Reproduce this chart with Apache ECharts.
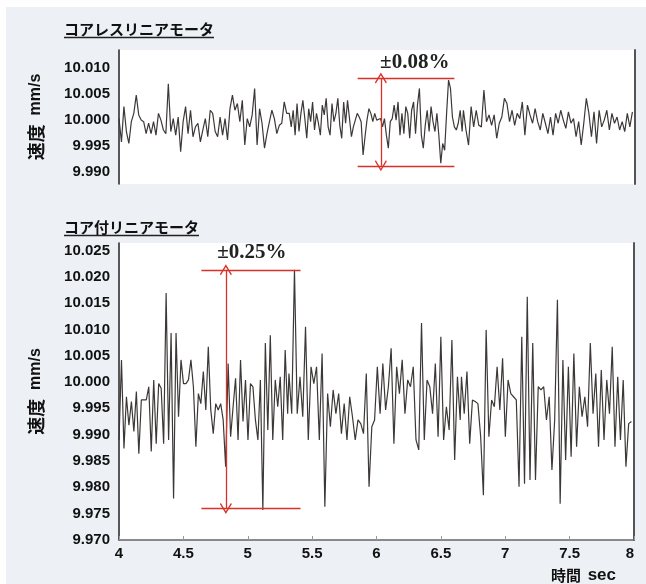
<!DOCTYPE html>
<html>
<head>
<meta charset="utf-8">
<script src="https://cdn.jsdelivr.net/npm/echarts@6/dist/echarts.min.js"></script>
<style>
  html, body { margin: 0; padding: 0; background: #ffffff; }
  #bg { position: absolute; left: 6px; top: 7px; width: 640px; height: 577px; background: #edf1f5; }
  #chart { position: absolute; left: 0; top: 0; width: 646px; height: 584px; }
</style>
</head>
<body>
<div id="bg"></div>
<div id="chart"></div>
<script>
// ---------- Titles / axis text ----------
const topTitle = 'コアレスリニアモータ';
const bottomTitle = 'コア付リニアモータ';
const yName = '速度';
const yUnit = 'mm/s';
const xName = '時間';
const xUnit = 'sec';

// ---------- Axis ticks ----------
const xTicks = [4, 4.5, 5, 5.5, 6, 6.5, 7, 7.5, 8];
const topYTicks = [9.990, 9.995, 10.000, 10.005, 10.010];
const bottomYTicks = [9.970, 9.975, 9.980, 9.985, 9.990, 9.995, 10.000, 10.005, 10.010, 10.015, 10.020, 10.025];
const topYRange = [9.9877, 10.0135];
const bottomYRange = [9.970, 10.0264];

// ---------- Coreless motor speed (mm/s), three time segments ----------
const topSegSpans = [[4.00, 5.30], [5.32, 6.66], [6.67, 7.98]];
const topSegA = [10.0003, 9.9958, 10.0026, 9.9978, 9.9955, 9.9997, 10.0013, 10.0048, 10.0010, 10.0000,
  9.9997, 9.9974, 9.9994, 9.9974, 9.9997, 9.9971, 10.0013, 10.0000, 9.9981, 9.9974,
  10.0070, 9.9978, 10.0003, 9.9971, 10.0006, 9.9939, 9.9997, 10.0026, 9.9974, 10.0019,
  9.9968, 9.9987, 9.9994, 9.9958, 9.9981, 10.0003, 9.9968, 10.0019, 10.0013, 9.9978,
  9.9968, 10.0006, 9.9971, 10.0003, 9.9962, 10.0022, 10.0048, 10.0019, 10.0032, 9.9997,
  10.0038, 9.9952, 10.0003, 9.9987, 10.0010, 10.0061, 9.9952, 10.0022, 9.9994, 9.9946,
  9.9974, 9.9997, 10.0019, 10.0003, 9.9974, 9.9990, 9.9994, 10.0035, 10.0013];
const topSegB = [10.0013, 9.9987, 10.0019, 9.9971, 10.0032, 9.9978, 10.0013, 10.0038, 10.0003, 9.9965,
  10.0022, 9.9997, 10.0035, 9.9981, 10.0013, 9.9994, 9.9971, 10.0029, 10.0010, 10.0042,
  9.9987, 9.9971, 10.0032, 9.9997, 10.0013, 10.0042, 9.9990, 9.9965, 10.0035, 9.9994,
  10.0038, 10.0003, 9.9968, 9.9987, 10.0000, 10.0013, 10.0006, 9.9997, 9.9933, 9.9968,
  10.0000, 10.0022, 10.0013, 9.9997, 10.0013, 10.0000, 9.9997, 10.0003, 9.9987, 10.0003,
  9.9971, 9.9946, 9.9997, 10.0003, 10.0029, 10.0000, 10.0035, 9.9971, 10.0013, 9.9974,
  10.0026, 10.0013, 9.9965, 10.0019, 10.0035, 9.9974, 10.0029, 10.0061, 9.9971, 9.9946,
  9.9990, 10.0019, 9.9978, 10.0026, 9.9997, 9.9978, 10.0013, 9.9971, 9.9917, 9.9955,
  9.9942, 10.0013, 10.0077, 10.0061, 10.0006, 9.9987, 9.9981, 9.9994, 10.0019, 9.9978];
const topSegC = [10.0019, 9.9981, 9.9952, 10.0026, 9.9987, 10.0019, 9.9990, 9.9987, 10.0058, 9.9997,
  10.0010, 9.9990, 10.0010, 9.9965, 9.9994, 10.0006, 10.0042, 10.0032, 9.9997, 10.0019,
  9.9990, 10.0013, 10.0003, 10.0035, 9.9971, 10.0029, 10.0010, 9.9994, 10.0022, 9.9997,
  9.9981, 10.0013, 9.9994, 9.9974, 10.0006, 9.9971, 10.0013, 9.9994, 10.0019, 10.0000,
  9.9984, 10.0016, 9.9994, 10.0003, 9.9968, 9.9997, 9.9952, 9.9994, 10.0042, 10.0013,
  9.9968, 10.0016, 9.9955, 10.0019, 9.9987, 10.0000, 10.0019, 9.9981, 10.0013, 9.9994,
  10.0006, 9.9981, 9.9997, 9.9978, 10.0013, 9.9987, 10.0016];

// ---------- Iron-core motor speed (mm/s), three time segments ----------
const bottomSegSpans = [[4.00, 5.31], [5.32, 6.65], [6.66, 7.98]];
const bottomSegA = [9.9890, 10.0042, 9.9874, 9.9972, 9.9918, 9.9963, 9.9906, 9.9982, 9.9864, 9.9966,
  9.9966, 9.9966, 9.9991, 9.9868, 10.0004, 9.9883, 9.9997, 9.9988, 9.9883, 10.0169,
  9.9890, 10.0093, 9.9779, 10.0093, 9.9934, 10.0042, 9.9997, 9.9997, 10.0004, 10.0042,
  9.9991, 9.9877, 9.9978, 9.9959, 10.0020, 9.9947, 10.0067, 9.9947, 9.9902, 9.9959,
  9.9947, 9.9959, 9.9928, 9.9839, 10.0035, 9.9896, 9.9953, 10.0007, 9.9890, 10.0042,
  9.9925, 10.0004, 9.9890, 9.9997, 9.9991, 9.9928, 9.9890, 10.0004, 9.9757, 10.0074,
  9.9909, 10.0089, 9.9890, 10.0004, 9.9953, 10.0010, 9.9890, 10.0061, 9.9940];
const bottomSegB = [10.0016, 9.9940, 10.0213, 9.9940, 10.0010, 9.9934, 10.0105, 9.9890, 10.0029, 9.9997,
  10.0029, 9.9890, 10.0054, 9.9763, 9.9978, 9.9915, 9.9985, 9.9940, 9.9978, 9.9902,
  9.9959, 9.9890, 9.9972, 9.9934, 9.9890, 9.9928, 9.9921, 9.9902, 10.0016, 9.9801,
  9.9915, 9.9928, 10.0029, 9.9940, 10.0035, 9.9947, 9.9991, 10.0064, 9.9883, 10.0029,
  9.9978, 10.0042, 9.9940, 10.0004, 9.9991, 10.0029, 9.9890, 9.9871, 10.0112, 9.9890,
  10.0004, 9.9991, 9.9940, 10.0035, 9.9896, 10.0086, 9.9890, 9.9953, 9.9909, 10.0080,
  9.9852, 10.0010, 9.9928];
const bottomSegC = [10.0010, 9.9940, 10.0020, 9.9883, 9.9966, 9.9963, 9.9959, 9.9896, 9.9785, 10.0099,
  9.9896, 9.9966, 9.9953, 10.0029, 9.9947, 10.0045, 9.9896, 10.0004, 9.9978, 9.9972,
  9.9966, 9.9801, 10.0086, 9.9807, 10.0162, 9.9814, 10.0074, 9.9814, 9.9991, 9.9985,
  9.9991, 9.9928, 9.9972, 9.9833, 9.9928, 10.0156, 9.9769, 10.0042, 9.9852, 10.0029,
  9.9858, 10.0054, 9.9877, 9.9991, 9.9934, 9.9972, 9.9915, 10.0074, 9.9940, 10.0016,
  9.9877, 10.0023, 9.9890, 10.0004, 9.9940, 10.0067, 9.9877, 10.0010, 9.9890, 10.0004,
  9.9839, 9.9921, 9.9925];

// ---------- Annotations (data units) ----------
const topBandLabel = '±0.08%';
const topBandLevels = [10.0081, 9.9912];
const topBandTimes = [5.85, 6.60];
const topArrowTime = 6.03;
const bottomBandLabel = '±0.25%';
const bottomBandLevels = [10.0213, 9.9760];
const bottomBandTimes = [4.64, 5.41];
const bottomArrowTime = 4.83;

function buildSeries(segs, spans) {
  const out = [];
  segs.forEach((seg, k) => {
    const t0 = spans[k][0], t1 = spans[k][1], n = seg.length;
    seg.forEach((v, i) => out.push([t0 + (t1 - t0) * i / (n - 1), v]));
  });
  return out;
}
const topData = buildSeries([topSegA, topSegB, topSegC], topSegSpans);
const bottomData = buildSeries([bottomSegA, bottomSegB, bottomSegC], bottomSegSpans);

const RED = '#d8322a';
const LINE = '#3d3838';
const chevron = 'path://M0,0 L6,10 L5,11 L0,2.6 L-5,11 L-6,10 Z';
const sansBold = { fontFamily: 'Liberation Sans, Arial, sans-serif', fontWeight: 'bold', color: '#111' };

function bandMarkLine(levels, times, arrowT, label, labelDist, labelPad) {
  return {
    silent: true,
    animation: false,
    symbol: ['none', 'none'],
    lineStyle: { color: RED, width: 1.3, type: 'solid' },
    label: { show: false },
    emphasis: { disabled: true },
    data: [
      [
        { coord: [times[0], levels[0]], label: { show: true, position: 'insideEndTop', formatter: label,
          distance: labelDist, padding: labelPad,
          fontFamily: 'Liberation Serif, Times New Roman, serif', fontWeight: 'bold', fontSize: 21, color: '#222' } },
        { coord: [times[1], levels[0]] }
      ],
      [ { coord: [times[0], levels[1]] }, { coord: [times[1], levels[1]] } ],
      [
        { coord: [arrowT, levels[0]], symbol: chevron, symbolSize: [12, 11] },
        { coord: [arrowT, levels[1]], symbol: chevron, symbolSize: [12, 11] }
      ]
    ]
  };
}

function yAxisLeft(grid, range, ticks, nameGap) {
  return {
    gridIndex: grid, type: 'value', min: range[0], max: range[1],
    axisLine: { show: true, lineStyle: { color: '#222', width: 1.5 } },
    axisTick: { show: false },
    splitLine: { show: false },
    axisLabel: { customValues: ticks, formatter: v => v.toFixed(3), fontSize: 15, margin: 9, ...sansBold },
    name: '{a|' + yName + '}  {b|' + yUnit + '}',
    nameLocation: 'middle', nameGap: nameGap, nameRotate: 90,
    nameTextStyle: {
      fontSize: 16, fontWeight: 'bold', color: '#111',
      rich: {
        a: { fontFamily: 'Noto Sans CJK JP', fontWeight: 'bold', fontSize: 18, color: '#111' },
        b: { ...sansBold, fontSize: 16 }
      }
    }
  };
}
function yAxisRight(grid, range) {
  return {
    gridIndex: grid, type: 'value', position: 'right', min: range[0], max: range[1],
    axisLine: { show: true, lineStyle: { color: '#555', width: 2 } },
    axisTick: { show: false }, axisLabel: { show: false }, splitLine: { show: false }
  };
}

const chart = echarts.init(document.getElementById('chart'), null, { renderer: 'canvas' });
chart.setOption({
  backgroundColor: 'transparent',
  animation: false,
  title: [
    { text: topTitle, left: 64, top: 22, padding: 0,
      textStyle: { fontFamily: 'Noto Sans CJK JP', fontWeight: 'bold', fontSize: 15, color: '#111' } },
    { text: bottomTitle, left: 64, top: 220, padding: 0,
      textStyle: { fontFamily: 'Noto Sans CJK JP', fontWeight: 'bold', fontSize: 15, color: '#111' } }
  ],
  graphic: [
    { type: 'line', shape: { x1: 64, y1: 37.5, x2: 214, y2: 37.5 }, style: { stroke: '#222', lineWidth: 1.5 } },
    { type: 'line', shape: { x1: 64, y1: 235.5, x2: 199, y2: 235.5 }, style: { stroke: '#222', lineWidth: 1.5 } }
  ],
  grid: [
    { left: 119, top: 50, width: 516, height: 134, show: true, backgroundColor: '#ffffff', borderWidth: 0 },
    { left: 119, top: 243, width: 515, height: 298, show: true, backgroundColor: '#ffffff', borderWidth: 0 }
  ],
  xAxis: [
    { gridIndex: 0, type: 'value', min: xTicks[0], max: xTicks[xTicks.length - 1], interval: 0.5, show: false },
    { gridIndex: 1, type: 'value', min: xTicks[0], max: xTicks[xTicks.length - 1], interval: 0.5,
      axisLine: { show: true, lineStyle: { color: '#666', width: 1.5 } },
      axisTick: { show: true, inside: true, length: 4, lineStyle: { color: '#999' } },
      splitLine: { show: false },
      axisLabel: { fontSize: 15, margin: 6, alignMaxLabel: 'right', ...sansBold },
      name: '{a|' + xName + '}  {b|' + xUnit + '}',
      nameLocation: 'end', nameGap: -18,
      nameTextStyle: { align: 'right', verticalAlign: 'top', padding: [27, 0, 0, 0],
        rich: {
          a: { fontFamily: 'Noto Sans CJK JP', fontWeight: 'bold', fontSize: 15, color: '#111' },
          b: { ...sansBold, fontSize: 17 }
        } }
    }
  ],
  yAxis: [
    yAxisLeft(0, topYRange, topYTicks, 74),
    yAxisRight(0, topYRange),
    yAxisLeft(1, bottomYRange, bottomYTicks, 74),
    yAxisRight(1, bottomYRange)
  ],
  series: [
    { type: 'line', xAxisIndex: 0, yAxisIndex: 0, data: topData, showSymbol: false, smooth: false,
      lineStyle: { color: LINE, width: 1.2 }, silent: true,
      markLine: bandMarkLine(topBandLevels, topBandTimes, topArrowTime, topBandLabel, 5, [0, 0, 0, 0]) },
    { type: 'line', xAxisIndex: 1, yAxisIndex: 2, data: bottomData, showSymbol: false, smooth: false,
      lineStyle: { color: LINE, width: 1.2 }, silent: true,
      markLine: bandMarkLine(bottomBandLevels, bottomBandTimes, bottomArrowTime, bottomBandLabel, 7, [0, 7, 0, 0]) }
  ]
});
</script>
</body>
</html>
